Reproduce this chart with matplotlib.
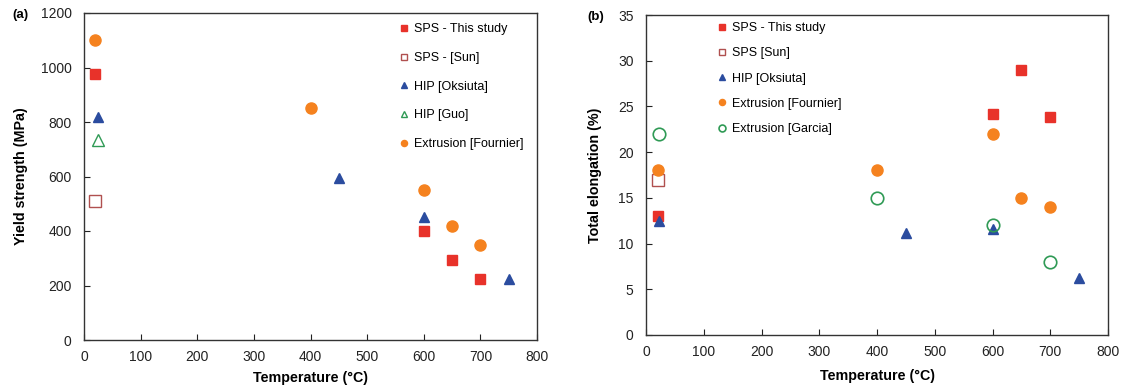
import matplotlib
matplotlib.use("Agg")
import matplotlib.pyplot as plt

plt.rcParams['font.family'] = ['Liberation Sans', 'DejaVu Sans']

# Panel (a): yield strength
a_sps_x = [20, 600, 650, 700]
a_sps_y = [975, 400, 295, 225]
a_sun_x = [20]
a_sun_y = [510]
a_oks_x = [25, 450, 600, 750]
a_oks_y = [820, 595, 450, 225]
a_guo_x = [25]
a_guo_y = [735]
a_fou_x = [20, 400, 600, 650, 700]
a_fou_y = [1100, 850, 550, 420, 350]

# Panel (b): total elongation
b_sps_x = [20, 600, 650, 700]
b_sps_y = [13, 24.2, 29, 23.8]
b_sun_x = [20]
b_sun_y = [17]
b_oks_x = [22, 450, 600, 750]
b_oks_y = [12.5, 11.2, 11.6, 6.2]
b_fou_x = [20, 400, 600, 650, 700]
b_fou_y = [18, 18, 22, 15, 14]
b_gar_x = [22, 400, 600, 700]
b_gar_y = [22, 15, 12, 8]

RED = '#e8322a'
SUN = '#b0504f'
BLUE = '#2b4c9f'
GREEN = '#2f9a55'
ORANGE = '#f5821f'

fig = plt.figure(figsize=(11.26, 3.88), dpi=100)
W, H = 1126, 388
axA = fig.add_axes([84 / W, 1 - 340 / H, (537 - 84) / W, (340 - 13) / H])
axB = fig.add_axes([646 / W, 1 - 335 / H, (1108 - 646) / W, (335 - 15) / H])

def style(ax):
    for s in ax.spines.values():
        s.set_color('#333333')
        s.set_linewidth(1.0)
    ax.tick_params(direction='in', length=4, width=0.8, labelsize=10, colors='#222222')
    ax.tick_params(axis='x', pad=7)
    ax.tick_params(axis='y', pad=9)
    ax.set_xlim(0, 800)
    ax.set_xticks(range(0, 801, 100))

ms_sq = 7.5
ms_ci = 8
ms_tr = 7

axA.plot(a_sps_x, a_sps_y, 's', color=RED, ms=ms_sq, mec=RED, label='SPS - This study')
axA.plot(a_sun_x, a_sun_y, 's', mfc='white', mec=SUN, mew=1.0, ms=ms_sq + 1, label='SPS - [Sun]')
axA.plot(a_oks_x, a_oks_y, '^', color=BLUE, ms=ms_tr, label='HIP [Oksiuta]')
axA.plot(a_guo_x, a_guo_y, '^', mfc='white', mec=GREEN, mew=1.0, ms=ms_tr + 2, label='HIP [Guo]')
axA.plot(a_fou_x, a_fou_y, 'o', color=ORANGE, ms=ms_ci, label='Extrusion [Fournier]')
style(axA)
axA.set_ylim(0, 1200)
axA.set_yticks(range(0, 1201, 200))
axA.set_xlabel('Temperature (°C)', fontweight='bold', fontsize=10.3)
axA.set_ylabel('Yield strength (MPa)', fontweight='bold', fontsize=10.3)
axA.xaxis.set_label_coords(0.5, -0.095)
axA.yaxis.set_label_coords(-0.124, 0.5)
axA.legend(loc='upper left', bbox_to_anchor=(0.695, 0.969), frameon=False, fontsize=9,
           markerscale=0.55, handlelength=0.8, handletextpad=0.4, labelspacing=1.34,
           borderaxespad=0, borderpad=0)
fig.text(12 / W, 1 - 15 / H, '(a)', fontsize=9.5, fontweight='bold', va='center', ha='left')

axB.plot(b_sps_x, b_sps_y, 's', color=RED, ms=ms_sq, label='SPS - This study')
axB.plot(b_sun_x, b_sun_y, 's', mfc='white', mec=SUN, mew=1.0, ms=ms_sq + 1, label='SPS [Sun]')
axB.plot(b_oks_x, b_oks_y, '^', color=BLUE, ms=ms_tr, label='HIP [Oksiuta]')
axB.plot(b_fou_x, b_fou_y, 'o', color=ORANGE, ms=ms_ci, label='Extrusion [Fournier]')
axB.plot(b_gar_x, b_gar_y, 'o', mfc='none', mec=GREEN, mew=1.2, ms=ms_ci + 1, label='Extrusion [Garcia]')
style(axB)
axB.set_ylim(0, 35)
axB.set_yticks(range(0, 36, 5))
axB.set_xlabel('Temperature (°C)', fontweight='bold', fontsize=10.3)
axB.set_ylabel('Total elongation (%)', fontweight='bold', fontsize=10.3)
axB.xaxis.set_label_coords(0.5, -0.106)
axB.yaxis.set_label_coords(-0.095, 0.5)
axB.legend(loc='upper left', bbox_to_anchor=(0.1537, 0.978), frameon=False, fontsize=9,
           markerscale=0.55, handlelength=0.8, handletextpad=0.4, labelspacing=1.06,
           borderaxespad=0, borderpad=0)
fig.text(587 / W, 1 - 17 / H, '(b)', fontsize=9.5, fontweight='bold', va='center', ha='left')

fig.savefig('out.png', dpi=100)
